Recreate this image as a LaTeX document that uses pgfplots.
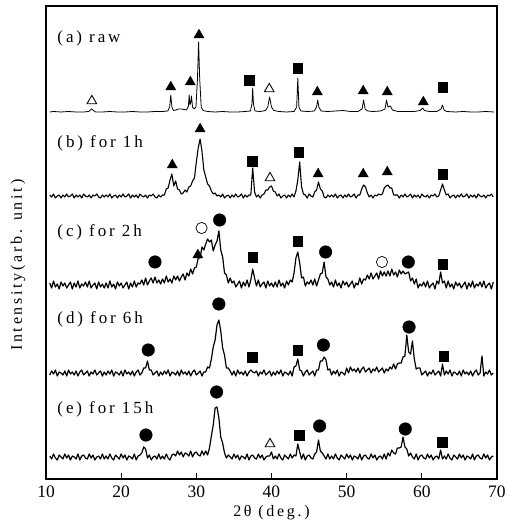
\documentclass[border=0pt]{standalone}
\usepackage{fontspec}
\setmainfont{Liberation Serif}[LetterSpace=17]
\newfontfamily\tickfont{Liberation Serif}
\usepackage{pgfplots}
\pgfplotsset{compat=1.18}
\usepackage{pgfplotstable}

% (a) raw powder: smooth pattern, y in plot units
\pgfplotstableread{
tt y
10.5 367
11 367.5
12 367
13 367.5
14 367
15 367
15.7 367.5
15.9 369
16.1 370
16.3 368.5
16.6 367
17.5 367
18.5 367.5
19.5 367
20.5 367
21.5 367.5
22.5 367
23.5 367
24.5 367.5
25.5 367.5
26.2 368
26.45 372
26.6 384
26.75 372
26.95 368.5
27.3 369
27.6 370
28 370
28.4 369.5
28.7 369
28.95 373
29.05 384
29.15 374
29.25 376
29.35 383
29.5 372
29.7 370
29.95 372
30.15 400
30.3 437
30.45 400
30.65 372
30.9 368.5
31.5 367.5
32.5 367
33.5 367.5
34.5 367
35.5 367
36.5 367.5
37.2 368
37.4 375
37.5 391
37.6 375
37.8 368
38.5 367.5
39.2 368.5
39.5 372
39.75 382
40 372
40.3 368.5
41 367.5
42 367
43 367.5
43.35 372
43.5 401
43.65 372
43.9 368
44.8 367.5
45.7 368
46 372
46.15 379
46.3 372
46.6 368
47.5 367.5
48.5 368
49.5 368.5
50.5 367.5
51.5 367.5
52.05 370
52.25 379
52.45 370
52.8 368
53.5 367.5
54.5 368
55.1 370
55.3 379
55.5 372
55.8 373
56.1 369
56.8 367.5
58 367.5
59 367.5
59.8 368.5
60.1 371
60.35 368.5
61 367.5
62 367.5
62.55 370
62.75 374
62.95 369
63.3 367.5
64.5 367
65.5 367.5
66.5 367
67.5 367
68.5 367.5
69.6 367
}\rawdata

% (b)-(e) milled: counts above each pattern's own baseline
\pgfplotstableread{
tt b c d e
10.5 1 2 -2 1
10.75 -1 -3 2 -2
11.0 2 4 -1 3
11.25 -2 -2 3 -1
11.5 0 1 -3 -3
11.75 1 -4 1 2
12.0 -2 3 0 0
12.25 1 -1 -2 -2
12.5 -1 2 2 3
12.75 2 -3 -3 -1
13.0 -1 0 3 2
13.25 0 3 -1 -3
13.5 2 -4 1 1
13.75 -2 2 -2 0
14.0 1 -2 2 -2
14.25 -1 4 -3 3
14.5 1 -3 1 -3
14.75 -2 1 3 1
15.0 2 -1 -2 2
15.25 0 3 0 -1
15.5 -1 -2 2 -2
15.75 1 4 -3 3
16.0 -2 -3 1 -1
16.25 1 0 -1 2
16.5 0 2 3 -3
16.75 2 -4 -2 0
17.0 -1 3 0 1
17.25 -2 -2 2 -2
17.5 1 1 -3 3
17.75 -1 -3 1 -2
18.0 1 2 -2 1
18.25 -1 -3 2 -2
18.5 2 4 -1 3
18.75 -2 -2 3 -1
19.0 0 1 -3 -3
19.25 1 -4 1 2
19.5 -2 3 0 0
19.75 1 -1 -2 -2
20.0 -1 2 2 3
20.25 2 -3 -3 -1
20.5 -1 0 3 2
20.75 0 3 -1 -3
21.0 2 -4 1 1
21.25 -2 2 -2 0
21.5 1 -2 2 -2
21.75 -1 4 -3 3
22.0 1 -2 1 -3
22.25 -2 2 3 1
22.5 2 1 -2 2
22.75 0 5 0 4
23.0 -1 0 5 10
23.25 1 7 5 8
23.5 -2 0 12 -1
23.75 1 4 3 2
24.0 0 7 3 -3
24.25 2 2 -2 0
24.5 -1 8 0 1
24.75 -2 2 2 -2
25.0 1 5 -3 3
25.25 -1 1 1 -2
25.5 1 6 -2 1
25.75 1 2 2 -2
26.0 7 9 -1 3
26.25 8 3 3 -1
26.5 16 6 -3 -3
26.75 22 2 1 2
27.0 10 9 0 3
27.25 15 5 -2 1
27.5 7 9 2 6
27.75 6 4 -3 2
28.0 2 8 3 5
28.25 3 11 -1 0
28.5 6 5 1 4
28.75 4 12 -2 3
29.0 9 9 2 1
29.25 10 16 -3 6
29.5 15 11 1 0
29.75 18 17 3 4
30.0 34 18 -2 5
30.25 48 27 0 2
30.5 57 27 2 1
30.75 45 38 -3 6
31.0 26 35 1 2
31.25 19 41 1 6
31.5 12 46 6 2
31.75 10 43 5 9
32.0 5 45 14 21
32.25 2 34 26 32
32.5 3 40 33 49
32.75 0 44 48 50
33.0 1 54 53 39
33.25 -1 35 42 20
33.5 2 28 25 14
33.75 -2 12 18 4
34.0 0 10 5 -1
34.25 1 2 5 2
34.5 -2 7 2 0
34.75 1 2 -2 -2
35.0 -1 4 2 3
35.25 2 -2 -3 -1
35.5 -1 1 3 2
35.75 0 4 -1 -3
36.0 2 -3 1 1
36.25 -2 3 -2 0
36.5 1 -1 2 -2
36.75 -1 5 -3 3
37.0 1 -2 1 -3
37.25 1 5 3 1
37.5 28 16 1 2
37.75 4 7 0 -1
38.0 -1 -1 2 -2
38.25 1 5 -3 3
38.5 -2 -2 1 -1
38.75 1 1 -1 2
39.0 2 3 3 -3
39.25 6 -3 -2 0
39.5 6 4 0 1
39.75 9 -1 2 1
40.0 10 2 -3 5
40.25 5 -2 1 -2
40.5 4 3 -2 1
40.75 0 -2 2 -2
41.0 2 5 -1 3
41.25 -2 -1 3 -1
41.5 0 2 -3 -3
41.75 1 -3 1 2
42.0 -2 4 0 0
42.25 1 0 -2 -2
42.5 -1 5 2 3
42.75 2 3 -3 -1
43.0 -1 12 6 2
43.25 5 27 7 1
43.5 16 33 14 13
43.75 34 22 3 5
44.0 9 7 2 -2
44.25 2 8 -3 3
44.5 1 -1 1 -3
44.75 -2 3 3 1
45.0 2 1 -2 2
45.25 0 5 0 -1
45.5 -1 0 2 -2
45.75 4 6 -3 3
46.0 6 -1 3 5
46.25 14 5 3 17
46.5 7 11 12 6
46.75 5 12 12 4
47.0 -1 23 16 1
47.25 -2 8 13 -2
47.5 1 6 3 3
47.75 -1 0 4 -2
48.0 1 3 -2 1
48.25 -1 -2 2 -2
48.5 2 5 -1 3
48.75 -2 -1 3 -1
49.0 0 2 -3 -3
49.25 1 -3 1 2
49.5 -2 4 0 0
49.75 1 0 -2 -2
50.0 -1 3 5 3
50.25 2 -2 0 -1
50.5 -1 1 6 2
50.75 0 4 2 -3
51.0 2 -3 4 1
51.25 -2 2 1 0
51.5 1 0 5 -2
51.75 1 7 0 3
52.0 7 1 4 -3
52.25 11 6 6 1
52.5 9 5 1 2
52.75 3 10 3 -1
53.0 -1 6 5 -2
53.25 1 12 0 3
53.5 -2 6 4 -1
53.75 1 9 2 2
54.0 0 12 6 -3
54.25 2 6 1 0
54.5 1 14 3 1
54.75 2 9 5 -2
55.0 8 13 0 3
55.25 10 9 4 -2
55.5 11 14 2 4
55.75 8 9 6 1
56.0 8 16 4 7
56.25 1 10 9 4
56.5 1 13 4 3
56.75 1 8 9 9
57.0 -2 15 10 9
57.25 1 11 10 10
57.5 -1 14 16 20
57.75 2 11 17 10
58.0 -1 12 38 8
58.25 0 13 21 1
58.5 2 4 19 4
58.75 -2 7 32 0
59.0 1 1 14 -2
59.25 -1 6 4 3
59.5 1 -3 5 -3
59.75 -2 1 5 1
60.0 2 -1 -2 2
60.25 0 3 0 -1
60.5 -1 -2 2 -2
60.75 1 4 -3 3
61.0 -2 -3 1 -1
61.25 1 0 -1 2
61.5 0 2 3 -3
61.75 2 -4 -2 0
62.0 -1 4 0 1
62.25 0 1 2 -2
62.5 6 13 -3 7
62.75 12 2 9 -2
63.0 6 4 -2 1
63.25 1 -3 2 -2
63.5 2 4 -1 3
63.75 -2 -2 3 -1
64.0 0 1 -3 -3
64.25 1 -4 1 2
64.5 -2 3 0 0
64.75 1 -1 -2 -2
65.0 -1 2 2 3
65.25 2 -3 -3 -1
65.5 -1 0 3 2
65.75 0 3 -1 -3
66.0 2 -4 1 1
66.25 -2 2 -2 0
66.5 1 -2 2 -2
66.75 -1 4 -3 3
67.0 1 -3 1 -3
67.25 -2 1 3 1
67.5 2 -1 -2 2
67.75 0 3 0 -1
68.0 -1 -2 17 -2
68.25 1 4 -3 3
68.5 -2 -3 1 -1
68.75 1 0 -1 2
69.0 0 2 3 -3
69.25 2 -4 -2 0
69.5 -1 3 0 1
}\milled

% phase markers, one table per symbol
\pgfplotstableread{
tt y
26.6 392
29.2 397
30.35 444
46.1 387
52.2 388
55.4 387
60.2 377
26.8 314
30.5 350
46.2 305
52.2 305
55.4 307
30.2 224
}\filledtri
\pgfplotstableread{
tt y
16.1 378
39.7 390
39.8 301
39.8 35
}\opentri
\pgfplotstableread{
tt y
37.0 399
43.5 411
62.8 392
37.4 318
43.6 327
62.8 305
37.5 222
43.5 238
62.8 215
37.4 122
43.5 129
62.9 123
43.7 44
62.7 37
}\squares
\pgfplotstableread{
tt y
24.5 217
33.1 259
47.2 227
58.2 217
23.6 129
33.0 175
46.9 134
58.3 152
23.3 44
32.7 87
46.4 53
57.8 50
}\filledcirc
\pgfplotstableread{
tt y
30.7 251
54.7 217
}\opencirc

\begin{document}
\begin{tikzpicture}
\begin{axis}[
  scale only axis,
  width=451bp, height=473bp,
  xmin=10, xmax=70, ymin=0, ymax=473,
  xtick={10,20,...,70}, ytick=\empty,
  xtick pos=bottom, tick align=inside,
  major tick length=6bp,
  axis line style={line width=1.1pt},
  every tick/.style={black, line width=0.9pt},
  /pgf/number format/assume math mode=true,
  xticklabel style={font=\tickfont\fontsize{17.5bp}{18bp}\selectfont, yshift=-3bp},
  xlabel={2θ (deg.)},
  xlabel style={font=\fontsize{16bp}{18bp}\selectfont,
    at={(axis description cs:0.5,-0.072)}, anchor=center},
  ylabel={Intensity(arb. unit)},
  ylabel style={font=\fontsize{16bp}{18bp}\selectfont,
    at={(axis description cs:-0.062,0.452)}, anchor=center},
  clip=false,
]
\addplot[black, line width=0.8pt, line join=round] table[x=tt, y=y] {\rawdata};
\addplot[black, line width=1.1pt, line join=round] table[x=tt, y expr=\thisrow{b}+283] {\milled};
\addplot[black, line width=1.2pt, line join=round] table[x=tt, y expr=\thisrow{c}+194] {\milled};
\addplot[black, line width=1.2pt, line join=round] table[x=tt, y expr=\thisrow{d}+106] {\milled};
\addplot[black, line width=1.2pt, line join=round] table[x=tt, y expr=\thisrow{e}+22] {\milled};

\addplot[only marks, mark=triangle*, mark size=5.8bp, mark options={fill=black, draw=black}] table[x=tt, y=y] {\filledtri};
\addplot[only marks, mark=triangle, mark size=5.6bp, mark options={fill=white, draw=black, line width=0.9pt}] table[x=tt, y=y] {\opentri};
\addplot[only marks, mark=square*, mark size=4.8bp, mark options={fill=black, draw=black}] table[x=tt, y=y] {\squares};
\addplot[only marks, mark=*, mark size=6.3bp, mark options={fill=black, draw=black}] table[x=tt, y=y] {\filledcirc};
\addplot[only marks, mark=o, mark size=5.6bp, mark options={fill=white, draw=black, line width=0.7pt}] table[x=tt, y=y] {\opencirc};

\begin{scope}[every node/.style={anchor=west, inner sep=0pt, font=\fontsize{17bp}{20bp}\selectfont}]
\node at (axis cs:11.5,441) {(a) raw};
\node at (axis cs:11.5,336) {(b) for 1h};
\node at (axis cs:11.5,247) {(c) for 2h};
\node at (axis cs:11.5,160) {(d) for 6h};
\node at (axis cs:11.5,70) {(e) for 15h};
\end{scope}
\end{axis}
\path (current axis.south west) ++(-46bp,-52bp) rectangle ++(520bp,531bp);
\end{tikzpicture}
\end{document}
